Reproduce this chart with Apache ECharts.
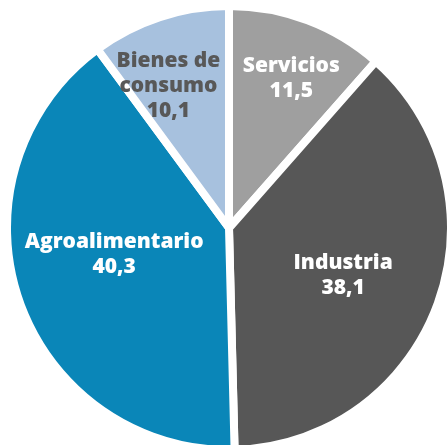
<!DOCTYPE html>
<html>
<head>
<meta charset="utf-8">
<script src="https://cdn.jsdelivr.net/npm/echarts@6/dist/echarts.min.js"></script>
<style>
  html, body { margin: 0; padding: 0; background: #fff; }
  #main { width: 448px; height: 445px; }
</style>
</head>
<body>
<div id="main"></div>
<script>
// sectores y su peso (%)
const sectors = ['Servicios', 'Industria', 'Agroalimentario', 'Bienes de\nconsumo']
const shares = [11.5, 38.1, 40.3, 10.1]

const sliceColors = ['#9f9f9f', '#575757', '#0a86b8', '#a7c1de']
const labelColors = ['#ffffff', '#ffffff', '#ffffff', '#585858']
// desplazamiento de cada etiqueta respecto a su posicion 'inside'
const labelShift = [[22, -43], [7, 9], [-7, -10], [-25, -34]]

let chart = echarts.init(document.querySelector('#main'))

let option = {
  animation: false,
  series: [
    {
      type: 'pie',
      center: [229, 228],
      radius: [0, 222],
      startAngle: 90,
      clockwise: true,
      itemStyle: {
        borderColor: '#ffffff',
        borderWidth: 8
      },
      label: {
        show: true,
        position: 'inside',
        fontFamily: 'Open Sans',
        fontWeight: 800,
        fontSize: 21,
        lineHeight: 25,
        formatter: function (p) {
          return p.name + '\n' + String(p.value).replace('.', ',')
        }
      },
      labelLine: { show: false },
      emphasis: { disabled: true },
      data: sectors.map((name, i) => ({
        name: name,
        value: shares[i],
        itemStyle: { color: sliceColors[i] },
        label: { color: labelColors[i], offset: labelShift[i] }
      }))
    }
  ]
}

chart.setOption(option)
</script>
</body>
</html>
